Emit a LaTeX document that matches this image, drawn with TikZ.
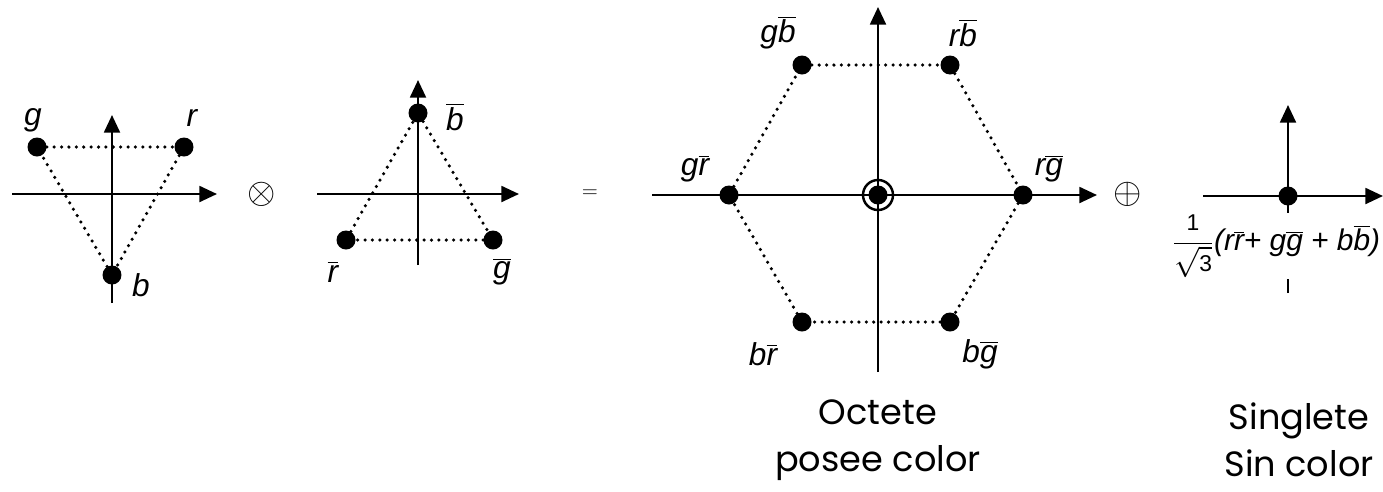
\documentclass[tikz,border=0pt]{standalone}
\usepackage{fontspec}
\setmainfont{Liberation Sans}
\newfontfamily\captionfont{Poppins}
\usetikzlibrary{arrows.meta,positioning}
\newcommand{\cb}[1]{$\overline{\mbox{#1}}$}
\newcommand{\dg}[1]{\mbox{\upshape\fontsize{13}{14}\selectfont #1}}

\begin{document}
\begin{tikzpicture}[
    x=0.02cm, y=-0.02cm,
    >={Triangle[length=10pt,width=9pt]},
    axis/.style={->, line width=1.4pt},
    dot/.style={circle, fill=black, inner sep=0pt, minimum size=0.38cm},
    edge/.style={line width=2pt, dash pattern=on 0pt off 4.2pt, line cap=round},
    lbl/.style={font=\fontsize{18}{21}\selectfont\itshape, inner sep=1pt},
    op/.style={font=\fontsize{22}{26}\selectfont},
    caption/.style={font=\captionfont\fontsize{20}{27}\selectfont, align=center}
]
\useasboundingbox (0,0) rectangle (1383,491);

% Triplet
\coordinate (t1w) at (12,194);  \coordinate (t1e) at (217,194);
\coordinate (t1s) at (112,303); \coordinate (t1n) at (112,115);
\draw[axis] (t1w) -- (t1e);
\draw[axis] (t1s) -- (t1n);
\node[dot] (g) at (37,147) {};
\node[dot] (r) at (184,147) {};
\node[dot] (b) at (112,275) {};
\draw[edge] (g) -- (r);
\draw[edge] (r) -- (b);
\draw[edge] (b) -- (g);
\node[lbl] (gl) at (33,120) {g};
\node[lbl] (rl) at (192,118) {r};
\node[lbl] (bl) at (141,285) {b};

\node[op] (times) at (262,194) {$\otimes$};

% Antitriplet
\coordinate (t2w) at (317,194); \coordinate (t2e) at (519,194);
\coordinate (t2s) at (418,265); \coordinate (t2n) at (418,80);
\draw[axis] (t2w) -- (t2e);
\draw[axis] (t2s) -- (t2n);
\node[dot] (ab) at (418,113) {};
\node[dot] (ar) at (346,240) {};
\node[dot] (ag) at (493,240) {};
\draw[edge] (ab) -- (ag);
\draw[edge] (ag) -- (ar);
\draw[edge] (ar) -- (ab);
\node[lbl] (abl) at (455,117) {\cb{b}};
\node[lbl] (arl) at (333,272) {\cb{r}};
\node[lbl] (agl) at (502,272) {\cb{g}};

\node[font=\large] (eq) at (590,194) {$=$};

% Octet
\coordinate (ow) at (652,195);  \coordinate (oe) at (1097,195);
\coordinate (os) at (878,372);  \coordinate (on) at (878,7);
\draw[axis] (ow) -- (oe);
\draw[axis] (os) -- (on);
\node[dot] (gab) at (802,65) {};
\node[dot] (rab) at (950,65) {};
\node[dot] (rag) at (1023,195) {};
\node[dot] (bag) at (950,322) {};
\node[dot] (bar) at (802,322) {};
\node[dot] (gar) at (729,195) {};
\node[dot] (c0) at (878,195) {};
\node[circle, draw, line width=1.4pt, minimum size=0.6cm] (c0ring) at (c0) {};
\draw[edge] (gab) -- (rab);
\draw[edge] (rab) -- (rag);
\draw[edge] (rag) -- (bag);
\draw[edge] (bag) -- (bar);
\draw[edge] (bar) -- (gar);
\draw[edge] (gar) -- (gab);
\node[lbl] (gabl) at (778,33) {g\cb{b}};
\node[lbl] (rabl) at (963,33) {r\cb{b}};
\node[lbl] (garl) at (695,169) {g\cb{r}};
\node[lbl] (ragl) at (1049,169) {r\cb{g}};
\node[lbl] (barl) at (763,354) {b\cb{r}};
\node[lbl] (bagl) at (980,354) {b\cb{g}};

\node[op] (plus) at (1128,194) {$\oplus$};

% Singlet
\coordinate (sw) at (1203,196); \coordinate (se) at (1383,196);
\coordinate (ss) at (1288,293); \coordinate (sn) at (1288,105);
\draw[axis] (sw) -- (se);
\draw[axis] (ss) -- (sn);
\node[dot] (s0) at (1288,196) {};
\node[lbl, fill=white, inner sep=1pt, font=\fontsize{17}{20}\selectfont\itshape]
    (s0l) at (1276,246)
    {$\displaystyle\frac{\dg{1}}{\sqrt{\dg{3}}}$(r\cb{r}+ g\cb{g} + b\cb{b})};

% Captions
\node[caption] (octcap) at (878,440) {Octete\\posee color};
\node[caption] (sincap) at (1299,440) {Singlete\\Sin color};

\end{tikzpicture}
\end{document}
